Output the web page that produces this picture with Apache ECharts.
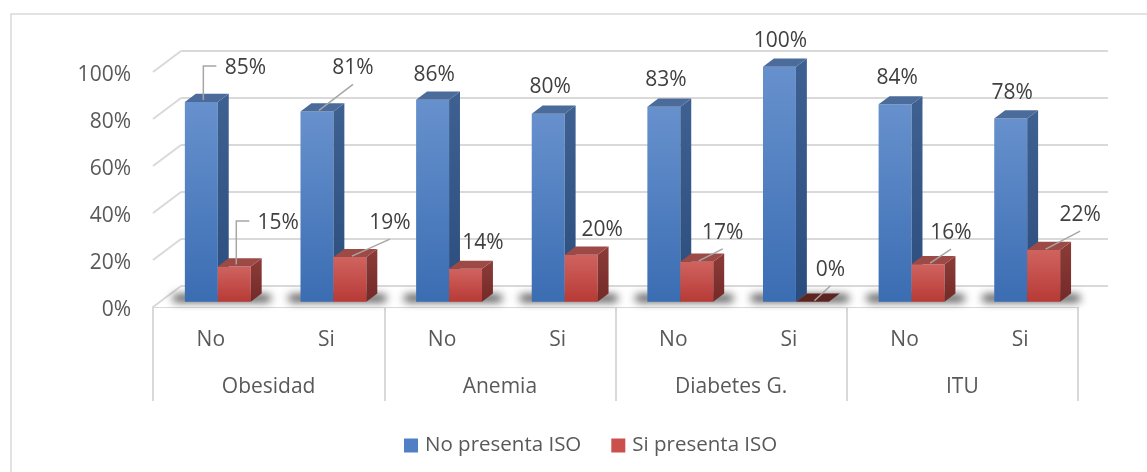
<!DOCTYPE html>
<html>
<head>
<meta charset="utf-8">
<script src="https://cdn.jsdelivr.net/npm/echarts@6/dist/echarts.min.js"></script>
<style>
  html, body { margin: 0; padding: 0; background: #ffffff; }
  #chart { width: 1147px; height: 472px; }
</style>
</head>
<body>
<div id="chart"></div>
<script>
// Sub-categories (bottom row) and condition groups (second row)
const categories = ['No', 'Si', 'No', 'Si', 'No', 'Si', 'No', 'Si'];
const groups = ['Obesidad', 'Anemia', 'Diabetes G.', 'ITU'];

// Percentages per series
const noPresenta = [85, 81, 86, 80, 83, 100, 84, 78];
const siPresenta = [15, 19, 14, 20, 17, 0, 16, 22];

// Value axis ticks and their labels
const yTicks = [0, 20, 40, 60, 80, 100];
const yTickLabels = ['0%', '20%', '40%', '60%', '80%', '100%'];

// Data label placement: offset of the label centre from the bar's top-front centre, and leader kind
const noLabelLayout = [[44, -34, 'elbow'], [36, -43, 'line'], [1.5, -25, null], [2, -27, null],
                       [2, -27, null], [1, -26, null], [2, -26, null], [1.5, -25.5, null]];
const siLabelLayout = [[44, -43.5, 'elbow'], [40, -34, 'line'], [17.5, -26, null], [21, -25, null],
                       [26, -29, 'line'], [18, -32, 'line'], [23, -31, 'line'], [36.5, -35, 'line']];

// Oblique 3D projection: vector from the front plane to the back wall
const DEPTH = [28, -21];
const BAR_FRONT = 0.25;   // bars' front face, as a fraction of the depth
const BAR_DEPTH = 0.39;   // bar thickness, as a fraction of the depth
const BAR_W = 0.285;      // bar width, as a fraction of a category band

const FONT = '"Open Sans", "Noto Sans", sans-serif';
const FONT_SIZE = 21;
const GRID_COLOR = '#d9d9d9';
const AXIS_TEXT = '#595959';

const palette = [
  { legend: '#4f80c6', front: ['#6791cd', '#3b6db3'], side: ['#3f6192', '#2a4d7e'], top: '#4b6b9b', flat: '#2e4a73' },
  { legend: '#c9504c', front: ['#d0635f', '#b73a36'], side: ['#8c3c39', '#742a27'], top: '#9d4a46', flat: '#5e2421' }
];
const labelLayouts = [noLabelLayout, siLabelLayout];

function vGrad(c) {
  return new echarts.graphic.LinearGradient(0, 0, 0, 1, [
    { offset: 0, color: c[0] }, { offset: 1, color: c[1] }
  ]);
}

function barGeom(api, idx, v, s) {
  const base = api.coord([idx, 0]);
  const top = api.coord([idx, v]);
  const band = api.size([1, 0])[0];
  const ox = DEPTH[0] * BAR_FRONT, oy = DEPTH[1] * BAR_FRONT;
  const w = band * BAR_W;
  const x0 = base[0] + ox + (s === 0 ? -w : 0);
  return {
    x0: x0, x1: x0 + w, w: w,
    yb: base[1] + oy, yt: top[1] + oy,
    dx: DEPTH[0] * BAR_DEPTH, dy: DEPTH[1] * BAR_DEPTH
  };
}

// Back wall, side gridlines, floor and value-axis labels
function renderFrame(params, api) {
  const cs = params.coordSys;
  const L = cs.x, R = cs.x + cs.width;
  const children = [];
  const y0 = api.coord([0, 0])[1];
  children.push({
    type: 'polygon',
    shape: { points: [[L, y0], [R, y0], [R + DEPTH[0], y0 + DEPTH[1]], [L + DEPTH[0], y0 + DEPTH[1]]] },
    style: { fill: '#ffffff', stroke: null }
  });
  yTicks.forEach(function (t, k) {
    const y = api.coord([0, t])[1];
    children.push({
      type: 'line',
      shape: { x1: L + DEPTH[0], y1: y + DEPTH[1], x2: R + DEPTH[0] + 2, y2: y + DEPTH[1] },
      style: { stroke: GRID_COLOR, lineWidth: 2 }
    });
    children.push({
      type: 'line',
      shape: { x1: L, y1: y, x2: L + DEPTH[0], y2: y + DEPTH[1] },
      style: { stroke: GRID_COLOR, lineWidth: 2 }
    });
    children.push({
      type: 'text',
      style: {
        text: yTickLabels[k], x: L - 22, y: y + 3, align: 'right', verticalAlign: 'middle',
        fill: AXIS_TEXT, font: FONT_SIZE + 'px ' + FONT
      }
    });
  });
  return { type: 'group', children: children };
}

// Soft shadow on the floor under each pair of bars: the shape sits off-canvas
// and only its blurred shadow is cast back into place.
const SHADOW_SHIFT = 2000;
function renderShadow(params, api) {
  const idx = api.value(0);
  const a = barGeom(api, idx, 0, 0);
  const b = barGeom(api, idx, 0, 1);
  const left = a.x0 - 12, right = b.x1 + 20;
  return {
    type: 'rect',
    shape: { x: left, y: a.yb - 7 - SHADOW_SHIFT, width: right - left, height: 7, r: 3 },
    style: {
      fill: '#000000', shadowBlur: 9, shadowColor: 'rgba(0,0,0,0.75)',
      shadowOffsetX: 0, shadowOffsetY: SHADOW_SHIFT
    }
  };
}

function makeBarRenderer(s) {
  const col = palette[s];
  return function (params, api) {
    const idx = api.value(0);
    const v = api.value(1);
    const g = barGeom(api, idx, v, s);
    const children = [];
    const h = g.yb - g.yt;
    if (h > 0.5) {
      children.push({
        type: 'rect',
        shape: { x: g.x0, y: g.yt, width: g.w, height: h },
        style: { fill: vGrad(col.front) }
      });
      children.push({
        type: 'polygon',
        shape: { points: [[g.x1, g.yt], [g.x1 + g.dx, g.yt + g.dy], [g.x1 + g.dx, g.yb + g.dy], [g.x1, g.yb]] },
        style: { fill: vGrad(col.side) }
      });
    }
    children.push({
      type: 'polygon',
      shape: { points: [[g.x0, g.yt], [g.x0 + g.dx, g.yt + g.dy], [g.x1 + g.dx, g.yt + g.dy], [g.x1, g.yt]] },
      style: { fill: h > 0.5 ? col.top : col.flat }
    });

    // data label with optional leader line
    const lay = labelLayouts[s][params.dataIndex];
    const ax = (g.x0 + g.x1) / 2, ay = g.yt;
    const cx = ax + lay[0], cy = ay + lay[1];
    if (lay[2] === 'line') {
      children.push({
        type: 'line',
        shape: { x1: ax + 2, y1: ay - 1, x2: cx, y2: cy + 16 },
        style: { stroke: '#a6a6a6', lineWidth: 1.5 }
      });
    } else if (lay[2] === 'elbow') {
      children.push({
        type: 'polyline',
        shape: { points: [[ax + 2, ay - 2], [ax + 2, cy - 2], [cx - 29, cy - 2]] },
        style: { stroke: '#a6a6a6', lineWidth: 1.5, fill: null }
      });
    }
    children.push({
      type: 'text',
      style: {
        text: v + '%', x: cx, y: cy, align: 'center', verticalAlign: 'middle',
        fill: '#404040', font: FONT_SIZE + 'px ' + FONT
      }
    });
    return { type: 'group', children: children };
  };
}

const idxs = categories.map(function (_, i) { return i; });

const chart = echarts.init(document.getElementById('chart'), null, { renderer: 'canvas' });
chart.setOption({
  animation: false,
  backgroundColor: '#ffffff',
  graphic: [{
    type: 'rect',
    shape: { x: 11, y: 14, width: 1160, height: 480 },
    style: { fill: null, stroke: GRID_COLOR, lineWidth: 1.5 },
    silent: true, z: -1
  }],
  grid: { left: 153, right: 69, top: 72, bottom: 165, containLabel: false },
  legend: {
    data: ['No presenta ISO', 'Si presenta ISO'],
    left: 399, top: 430,
    icon: 'rect', itemWidth: 14, itemHeight: 14, itemGap: 30,
    textStyle: { fontSize: 20.5, color: AXIS_TEXT, fontFamily: FONT, padding: [0, 0, 0, 2] }
  },
  xAxis: [{
    type: 'category',
    data: categories,
    position: 'bottom',
    axisLine: { show: true, lineStyle: { color: GRID_COLOR, width: 2 } },
    axisTick: { show: false },
    axisLabel: { interval: 0, margin: 23, fontSize: FONT_SIZE, color: AXIS_TEXT, fontFamily: FONT }
  }, {
    type: 'category',
    data: groups,
    position: 'bottom',
    axisLine: { show: false },
    axisTick: { show: true, length: 94, interval: 0, lineStyle: { color: GRID_COLOR, width: 2 } },
    axisLabel: { interval: 0, margin: 70, fontSize: FONT_SIZE, color: AXIS_TEXT, fontFamily: FONT }
  }],
  yAxis: {
    type: 'value', min: 0, max: 100, interval: 20,
    axisLine: { show: false }, axisTick: { show: false }, splitLine: { show: false },
    axisLabel: { show: false }
  },
  series: [{
    type: 'custom', name: 'frame', silent: true, z: 1,
    renderItem: renderFrame,
    data: [[0, 0]]
  }, {
    type: 'custom', name: 'shadow', silent: true, z: 2,
    renderItem: renderShadow,
    data: idxs.map(function (i) { return [i, 0]; })
  }, {
    type: 'custom', name: 'No presenta ISO', z: 3,
    itemStyle: { color: palette[0].legend },
    renderItem: makeBarRenderer(0),
    encode: { x: 0, y: 1 },
    data: noPresenta.map(function (v, i) { return [i, v]; })
  }, {
    type: 'custom', name: 'Si presenta ISO', z: 3,
    itemStyle: { color: palette[1].legend },
    renderItem: makeBarRenderer(1),
    encode: { x: 0, y: 1 },
    data: siPresenta.map(function (v, i) { return [i, v]; })
  }]
});
</script>
</body>
</html>
